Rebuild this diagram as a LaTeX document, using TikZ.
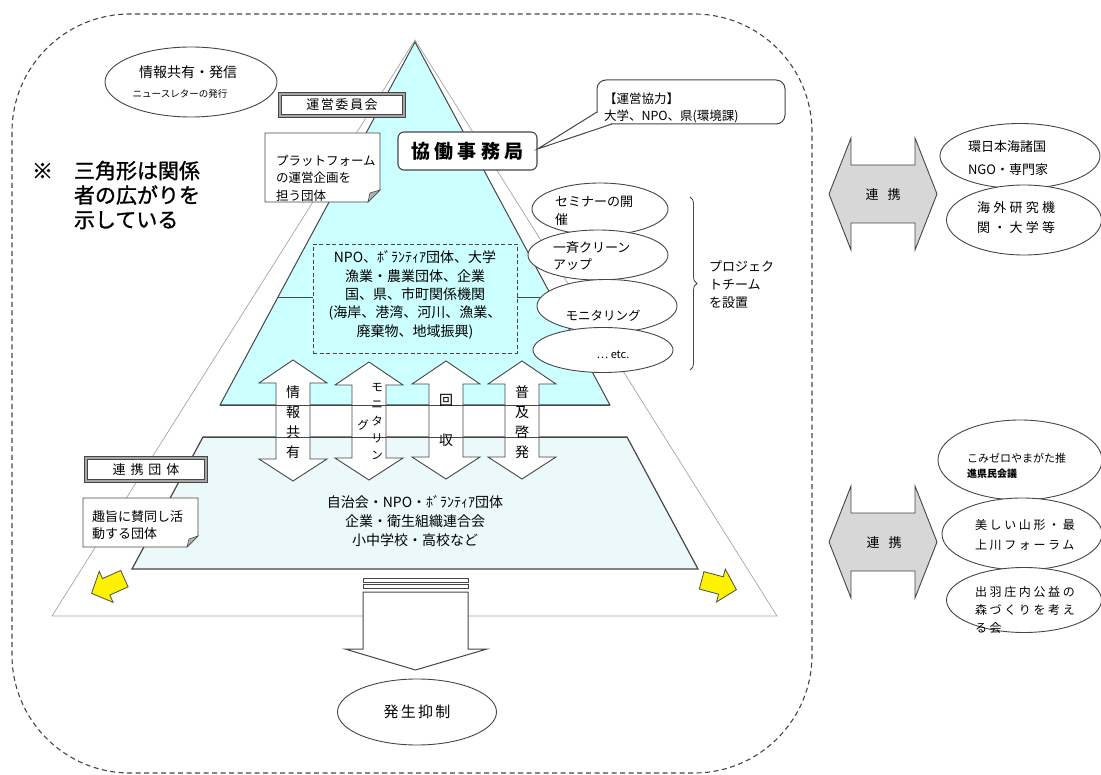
\documentclass[tikz,border=0pt]{standalone}
\usepackage{fontspec}
\setmainfont{Noto Sans CJK JP}
\usetikzlibrary{shapes.geometric,decorations.pathreplacing,calc}
\definecolor{cyanfill}{RGB}{204,255,255}
\definecolor{lowfill}{RGB}{236,249,251}
\definecolor{lg}{RGB}{70,70,70}
\definecolor{tg}{RGB}{165,165,165}
\definecolor{arrgray}{RGB}{215,215,215}
\newcommand\fz[2]{\fontsize{#1}{#2}\selectfont}
\newcommand\ls[1]{\addfontfeature{LetterSpace=#1}}
\newcommand\vdarrow[3]{%
  \draw[lg, line width=0.9pt, fill=white] (#1,#2) -- (#1+34,#2+23) -- (#1+17,#2+23) -- (#1+17,#3-22) -- (#1+34,#3-22) -- (#1,#3) -- (#1-34,#3-22) -- (#1-17,#3-22) -- (#1-17,#2+23) -- (#1-34,#2+23) -- cycle;}
\newcommand\hdarrow[1]{%
  \draw[lg, line width=0.9pt, fill=arrgray] (829,#1) -- (851,#1-56) -- (851,#1-29) -- (915,#1-29) -- (915,#1-56) -- (937,#1) -- (915,#1+56) -- (915,#1+29) -- (851,#1+29) -- (851,#1+56) -- cycle;}
\begin{document}
\begin{tikzpicture}[x=1pt, y=-1pt,
  every node/.style={inner sep=0pt, outer sep=0pt},
  ell/.style={ellipse, draw=lg, line width=0.9pt, fill=white},
  lbl/.style={align=left, anchor=west},
  ctr/.style={align=center},
  dblbox/.style={draw=lg, line width=1pt, double=black!35, double distance=2pt, fill=white},
  notefold/.style={lg, line width=0.6pt, fill=black!30},
  yarrow/.style={draw=black!70, line width=0.8pt, fill=yellow}]
\useasboundingbox (0,0) rectangle (1101,775);
% outer dashed frame
\draw[lg, line width=1.1pt, dash pattern=on 5pt off 3.5pt, rounded corners=118pt] (12,14) rectangle (812,773);
% outer thin triangle
\draw[tg, line width=0.7pt] (415,40) -- (777,616) -- (52,616) -- cycle;
% cyan triangle and lower trapezoid
\draw[lg, line width=1pt, fill=cyanfill] (415,42) -- (610,405) -- (220,405) -- cycle;
\draw[lg, line width=1.2pt, fill=lowfill] (203,437) -- (627,437) -- (698,569) -- (132,569) -- cycle;
\draw[lg, line width=0.8pt] (278,297) -- (552,297);
% dashed member box
\node[draw=lg, line width=0.9pt, dash pattern=on 4pt off 2.5pt, fill=cyanfill, minimum width=204, minimum height=109] (members) at (415,298.5) {};
\node[ctr, font=\fz{14}{18.4}] (memberstxt) at (415,295) {NPO、ﾎﾞﾗﾝﾃｨｱ団体、大学\\漁業・農業団体、企業\\国、県、市町関係機関\\(海岸、港湾、河川、漁業、\\廃棄物、地域振興)};
% vertical double arrows
\vdarrow{293}{360}{481}
\vdarrow{369}{362}{480}
\vdarrow{446}{361}{479}
\vdarrow{522}{361}{479}
\draw[lg, line width=0.8pt] (220,405) -- (610,405);
\draw[lg, line width=0.8pt] (203,437) -- (627,437);
\node[ctr, font=\fz{14}{20}] (a1) at (293,422) {情\\報\\共\\有};
\node[ctr, font=\fz{11.5}{16.8}] (a2) at (377,421.5) {モ\\ニ\\タ\\リ\\ン};
\node[font=\fz{11.5}{14}] (a2b) at (363,425) {グ};
\node[ctr, font=\fz{14}{40}] (a3) at (446,420) {回\\収};
\node[ctr, font=\fz{14}{20}] (a4) at (522,422) {普\\及\\啓\\発};
% lower text
\node[ctr, font=\fz{14}{19}] (assoc) at (415,521) {自治会・NPO・ﾎﾞﾗﾝﾃｨｱ団体\\企業・衛生組織連合会\\小中学校・高校など};
% info ellipse
\node[ell, minimum width=172, minimum height=70] (info) at (191,82) {};
\node[font=\fz{14}{16}] (infot1) at (188,72) {情報共有・発信};
\node[font=\fz{9.5}{12}] (infot2) at (180,94) {ニュースレターの発行};
% steering committee
\node[dblbox, minimum width=124, minimum height=22, font=\fz{13}{15}\ls{12}] (iinkai) at (342,105) {運営委員会};
\draw[lg, line width=0.9pt, fill=white] (265,133) -- (380,133) -- (380,190) -- (368,202) -- (265,202) -- cycle;
\draw[notefold] (380,190) -- (370,193) -- (368,202) -- cycle;
\node[lbl, font=\fz{12.5}{17.5}] (note1) at (276,178) {プラットフォーム\\の運営企画を\\担う団体};
% secretariat
\node[draw=lg, line width=1.1pt, fill=white, rounded corners=6pt, minimum width=139, minimum height=38, font=\fz{19}{22}\bfseries\ls{22}] (jimu) at (467.5,151) {協働事務局};
% callout
\node[draw=lg, line width=1pt, fill=white, rounded corners=9pt, minimum width=188, minimum height=44] (kyo) at (691,102) {};
\coordinate (tip) at ($(jimu.east)+(0.5,-2)$);
\fill[white] ($(kyo.south west)+(-0.6,-12)$) -- (tip) -- ($(kyo.south west)+(15,0.6)$) -- cycle;
\draw[lg, line width=1pt] ($(kyo.south west)+(0,-12)$) -- (tip) -- ($(kyo.south west)+(15,0)$);
\node[lbl, font=\fz{12.5}{17}] (kyot) at (604,107.5) {【運営協力】\\大学、NPO、県(環境課)};
% remark
\node[lbl, font=\fz{21}{24.5}\addfontfeature{FakeBold=1.2}] (remark) at (32,195) {※　三角形は関係\\\hspace*{42pt}者の広がりを\\\hspace*{42pt}示している};
% project ellipses
\node[ell, minimum width=136, minimum height=52] (pj1) at (600,209) {};
\node[ell, minimum width=140, minimum height=50] (pj2) at (598,255) {};
\node[ell, minimum width=140, minimum height=53] (pj3) at (607,306) {};
\node[ell, minimum width=140, minimum height=45] (pj4) at (603,350) {};
\node[lbl, font=\fz{13}{18}] (pj1t) at (555,211) {セミナーの開\\催};
\node[lbl, font=\fz{13}{17}] (pj2t) at (553,256.5) {一斉クリーン\\アップ};
\node[font=\fz{12.5}{15}] (pj3t) at (603,316) {モニタリング};
\node[font=\fz{11}{13}] (pj4t) at (613,355) {… etc.};
\coordinate (bt) at (690,197);
\coordinate (bb) at (690,370);
\draw[lg, line width=0.8pt, decorate, decoration={brace, amplitude=7pt}] (bt) -- (bb);
\node[lbl, font=\fz{13}{18}] (pjt) at (709,285) {プロジェク\\トチーム\\を設置};
% partner groups
\node[dblbox, minimum width=120, minimum height=23, font=\fz{13}{15}\ls{38}] (renkei) at (146,469.5) {連携団体};
\draw[lg, line width=0.9pt, fill=white] (83,498) -- (198,498) -- (198,536) -- (187,547) -- (83,547) -- cycle;
\draw[notefold] (198,536) -- (189,539) -- (187,547) -- cycle;
\node[lbl, font=\fz{13}{16.5}] (note2) at (92,525) {趣旨に賛同し活\\動する団体};
% yellow arrows
\begin{scope}[shift={(108,586)}, rotate=204]
  \draw[yarrow] (-18,-9) -- (2,-9) -- (2,-17) -- (18,0) -- (2,17) -- (2,9) -- (-18,9) -- cycle;
\end{scope}
\begin{scope}[shift={(719,585)}, rotate=-15]
  \draw[yarrow] (-18,-9) -- (2,-9) -- (2,-17) -- (18,0) -- (2,17) -- (2,9) -- (-18,9) -- cycle;
\end{scope}
% big down arrow
\draw[lg, line width=1pt, fill=white] (363,578) rectangle (468,582);
\draw[lg, line width=1pt, fill=white] (363,584) rectangle (468,588);
\draw[lg, line width=1pt, fill=white] (363,592) -- (468,592) -- (468,649) -- (487,649) -- (415.5,670) -- (345,649) -- (363,649) -- cycle;
\node[ell, minimum width=159, minimum height=66, font=\fz{15}{18}\ls{15}] (hassei) at (417,712) {発生抑制};
% right side
\hdarrow{194}
\hdarrow{542}
\node[font=\fz{13}{15}] (rk1) at (883,195) {連\hspace{9pt}携};
\node[font=\fz{13}{15}] (rk2) at (884,543) {連\hspace{9pt}携};
\node[ell, minimum width=160, minimum height=65] (e1) at (1020,156) {};
\node[ell, minimum width=155, minimum height=70] (e2) at (1024,220) {};
\node[lbl, font=\fz{13}{23}] (e1t) at (968,158.5) {環日本海諸国\\NGO・専門家};
\node[lbl, font=\fz{13}{20}\ls{25}] (e2t) at (977,218) {海外研究機\\関・大学等};
\node[ell, minimum width=164, minimum height=80] (e3) at (1020,460) {};
\node[ell, minimum width=160, minimum height=72] (e4) at (1022,534) {};
\node[ell, minimum width=155, minimum height=65] (e5) at (1024,600) {};
\node[lbl, font=\fz{11}{15}] (e3t1) at (967,458) {こみゼロやまがた推};
\node[lbl, font=\fz{10}{12}\bfseries] (e3t2) at (967,474) {進県民会議};
\node[lbl, font=\fz{12}{20}\ls{22}] (e4t) at (975,535) {美しい山形・最\\上川フォーラム};
\node[lbl, font=\fz{12}{18}\ls{22}] (e5t) at (975,610) {出羽庄内公益の\\森づくりを考え\\る会};
\end{tikzpicture}
\end{document}
